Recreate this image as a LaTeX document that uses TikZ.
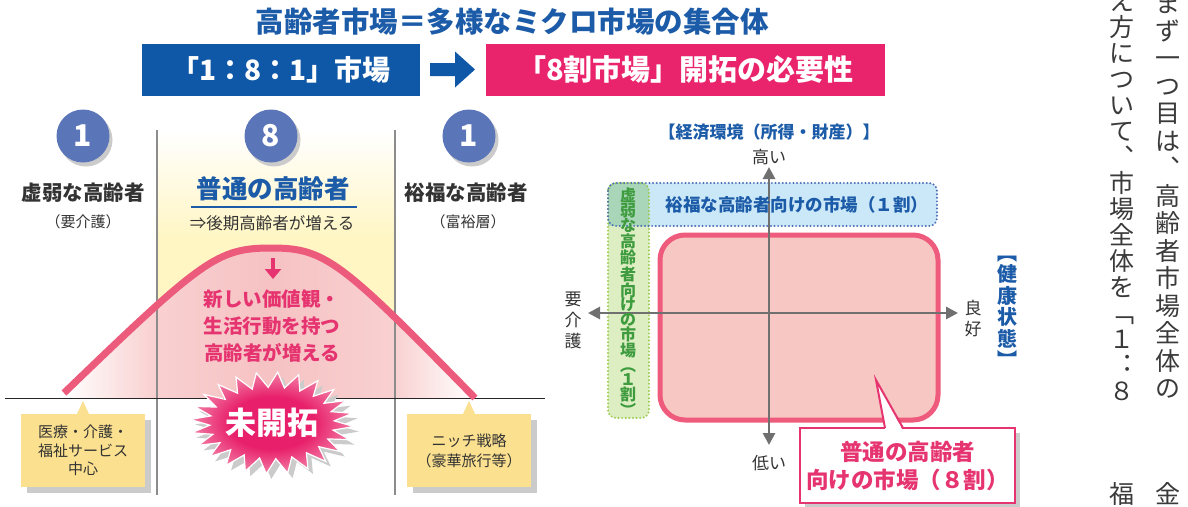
\documentclass[tikz,border=0pt]{standalone}
\usepackage{fontspec}
\setmainfont{Noto Sans CJK JP}
\usetikzlibrary{arrows.meta,shadows,calc}
\definecolor{tblue}{HTML}{1B5BA8}
\definecolor{boxblue}{HTML}{0F57A7}
\definecolor{boxpink}{HTML}{EA246C}
\definecolor{badge}{HTML}{5B75B9}
\definecolor{curvepink}{HTML}{EC5A7C}
\definecolor{textpink}{HTML}{E63470}
\definecolor{yel}{HTML}{FFF6C4}
\definecolor{bellpink}{HTML}{F9D0D0}
\definecolor{bellpink2}{HTML}{F6C2C3}
\definecolor{notey}{HTML}{FBE08F}
\definecolor{shadowg}{HTML}{CBCBCB}
\definecolor{linegrey}{HTML}{8C8C8C}
\definecolor{axisg}{HTML}{707070}
\definecolor{dtext}{HTML}{333333}
\definecolor{booktc}{HTML}{3A3A3A}
\definecolor{lblue}{HTML}{CBE8F8}
\definecolor{dblue}{HTML}{4C6FB6}
\definecolor{lgreen}{HTML}{DDEEC3}
\definecolor{dgreen}{HTML}{9CCB4E}
\definecolor{tgreen}{HTML}{3E9B3E}
\definecolor{ovl}{HTML}{A9D5B8}
\definecolor{rectpink}{HTML}{F7C7C3}
\definecolor{rectborder}{HTML}{EE5B7C}
\definecolor{starin}{HTML}{E8206B}
\definecolor{starout}{HTML}{F27DA4}
\newcommand\fsz[2]{\fontsize{#1}{#2}\selectfont}
\pgfdeclareverticalshading{yelsh}{100bp}{color(0bp)=(yel); color(25bp)=(yel); color(55bp)=(yel); color(75bp)=(white); color(100bp)=(white)}
\pgfdeclarehorizontalshading{bellsh}{100bp}{color(0bp)=(white); color(25bp)=(white); color(36bp)=(bellpink); color(50bp)=(bellpink2); color(65bp)=(bellpink); color(75bp)=(white); color(100bp)=(white)}
\pgfdeclareradialshading{starsh}{\pgfpoint{0bp}{0bp}}{color(0bp)=(starin); color(13bp)=(starin); color(25bp)=(starout); color(50bp)=(starout)}
\begin{document}
\begin{tikzpicture}[x=1pt,y=-1pt,
  every node/.style={inner sep=0pt,outer sep=0pt},
  badgestyle/.style={circle, fill=badge, minimum size=53pt, text=white, font=\bfseries\fsz{30}{30}, drop shadow={shadow xshift=3pt, shadow yshift=-4pt, fill=shadowg, opacity=1}},
  catlabel/.style={font=\bfseries\fsz{20.5}{24}, text=dtext},
  sublabel/.style={font=\fsz{15}{18}, text=dtext},
  notebox/.style={fill=notey, minimum width=124pt, minimum height=73pt, align=center, text=dtext, font=\fsz{15}{18.5}, drop shadow={shadow xshift=6pt, shadow yshift=-6pt, fill=shadowg, opacity=1}},
  axislabel/.style={font=\fsz{17}{21}, text=dtext, align=center},
  dotline/.style={line width=2.2pt, dash pattern=on 0pt off 3.6pt, line cap=round},
  axisarrow/.style={axisg, line width=2.8pt, {Triangle[width=12pt,length=12pt]}-{Triangle[width=12pt,length=12pt]}},
  booktext/.style={font=\fsz{25}{27.5}, text=booktc, align=center},
]
\useasboundingbox (0,0) rectangle (1188,506);
\fill[white] (0,0) rectangle (1188,506);

% ---------- header ----------
\node[font=\bfseries\fsz{28.5}{30}, text=tblue] (title) at (512,22) {高齢者市場＝多様なミクロ市場の集合体};
\node[fill=boxblue, minimum width=278pt, minimum height=52pt, text=white, font=\bfseries\fsz{28}{30}] (b181) at (281,69.5) {「1：8：1」市場};
\node[fill=boxpink, minimum width=399pt, minimum height=52pt, text=white, font=\bfseries\fsz{29}{30}] (b8) at (685.5,69.5) {「8割市場」開拓の必要性};
\fill[boxblue] ($(b181.east)+(10,-6.5)$) -- ++(25,0) -- ++(0,-11.5) -- ++(20,18) -- ++(-20,18) -- ++(0,-11.5) -- ++(-25,0) -- cycle;

% ---------- left panel ----------
\shade[shading=yelsh] (157,130) rectangle (395,398);
\shade[shading=bellsh] (64,398) -- (64,393) .. controls (202,260) and (217,248) .. (271,248) .. controls (325,248) and (340,260) .. (475,398) -- cycle;
\draw[linegrey, line width=2.2pt] (157,130) -- (157,495);
\draw[linegrey, line width=2.2pt] (395,130) -- (395,495);
\draw[black!85, line width=1pt] (5,398) -- (545,398);
\draw[curvepink, line width=7pt] (64,393) .. controls (202,260) and (217,248) .. (271,248) .. controls (325,248) and (340,260) .. (475,398);

\node[badgestyle] (c1) at (83,136) {1};
\node[badgestyle] (c8) at (271,136) {8};
\node[badgestyle] (c10) at (469,136) {1};

\node[catlabel] (l1) at (83,193) {虚弱な高齢者};
\node[sublabel] (l1s) at (83,222) {（要介護）};
\node[font=\bfseries\fsz{25.5}{28}, text=tblue] (l8) at (273,189) {普通の高齢者};
\draw[tblue, line width=1.3pt] (191,207) -- (357,207);
\node[font=\fsz{16.5}{20}, text=dtext] (l8s) at (272,223) {⇒後期高齢者が増える};
\node[catlabel] (l10) at (466,193) {裕福な高齢者};
\node[sublabel] (l10s) at (468,222) {（富裕層）};

\coordinate (pa1) at (273,258);
\coordinate (pa2) at (273,279);
\draw[textpink, line width=4.5pt, -{Triangle[width=16pt,length=10pt]}] (pa1) -- (pa2);
\node[font=\bfseries\fsz{19.5}{27}, text=textpink, align=center] (newv) at (272,326) {新しい価値観・\\生活行動を持つ\\高齢者が増える};

% starburst
\fill[shadowg] plot[samples at={0,...,47}] ({277+82*(1-0.24*mod(\x,2))*cos(\x*7.5+4)},{428+51*(1-0.3*mod(\x,2))*sin(\x*7.5+4)}) -- cycle;
\shadedraw[shading=starsh, draw=white, line width=1.2pt] plot[samples at={0,...,47}] ({272+82*(1-0.24*mod(\x,2))*cos(\x*7.5+4)},{423+51*(1-0.3*mod(\x,2))*sin(\x*7.5+4)}) -- cycle;
\node[font=\bfseries\fsz{31}{32}, text=white] (mk) at (272,423) {未開拓};

% notes
\node[notebox] (n1) at (83,450.5) {医療・介護・\\福祉サービス\\中心};
\fill[notey] ([xshift=-6pt]n1.north) -- ([yshift=13pt]n1.north) -- ([xshift=6pt]n1.north) -- cycle;
\node[notebox, font=\fsz{15}{20}] (n2) at (469,450.5) {ニッチ戦略\\（豪華旅行等）};
\fill[notey] ([xshift=-6pt]n2.north) -- ([yshift=13pt]n2.north) -- ([xshift=6pt]n2.north) -- cycle;

% ---------- right panel ----------
\fill[lgreen, rounded corners=8pt] (608,183) rectangle (649,418);
\fill[lblue, rounded corners=8pt] (608,183) rectangle (937,226);
\begin{scope}
\clip[rounded corners=8pt] (608,183) rectangle (649,418);
\fill[ovl] (608,183) rectangle (649,226);
\end{scope}
\draw[dgreen, dotline, rounded corners=8pt] (608,183) rectangle (649,418);
\draw[dblue, dotline, rounded corners=8pt] (608,183) rectangle (937,226);
\draw[rectborder, fill=rectpink, line width=5pt, rounded corners=25pt] (660,235) rectangle (938,420);

\coordinate (vt) at (769,167);
\coordinate (vb) at (769,445);
\coordinate (hl) at (588,313);
\coordinate (hr) at (958,313);
\draw[axisarrow] (vb) -- (vt);
\draw[axisarrow] (hl) -- (hr);

\node[font=\bfseries\fsz{17.5}{20}, text=tblue] (rich) at (797,205) {裕福な高齢者向けの市場（１割）};
\node[font=\bfseries\fsz{16}{14.7}, text=tgreen, align=center] (weak) at (628,302) {虚\\弱\\な\\高\\齢\\者\\向\\け\\の\\市\\場\\︵\\１\\割\\︶};

\node[font=\bfseries\fsz{17}{20}, text=tblue] (econ) at (769,132) {【経済環境（所得・財産）】};
\node[axislabel] (hi) at (769,157) {高い};
\node[axislabel] (lo) at (769,463) {低い};
\node[axislabel] (yk) at (573,320) {要\\介\\護};
\node[axislabel] (ry) at (973,319) {良\\好};
\node[font=\bfseries\fsz{20}{21.5}, text=tblue, align=center] (kenko) at (1007,312) {︻\\健\\康\\状\\態\\︼};

% callout
\fill[shadowg] (805,433) rectangle (1020,508);
\node[draw=textpink, line width=2pt, fill=white, minimum width=215pt, minimum height=75pt, align=center, font=\bfseries\fsz{22.5}{28}, text=textpink] (call) at (907.5,465.5) {普通の高齢者\\向けの市場（８割）};
\coordinate (ctip) at (876,380);
\fill[white] ([xshift=-22pt,yshift=-2pt]call.north) -- (ctip) -- ([xshift=-5pt,yshift=-2pt]call.north) -- cycle;
\draw[textpink, line width=2pt] ([xshift=-22.5pt]call.north) -- (ctip) -- ([xshift=-4.5pt]call.north);

% ---------- book text at right edge ----------
\node[booktext] (bk1) at (1168,195.5) {ま\\ず\\一\\つ\\目\\は\\︑\\高\\齢\\者\\市\\場\\全\\体\\の};
\node[booktext] (bk2) at (1168,494) {金};
\node[booktext, font=\fsz{25}{26}] (bk3) at (1122,195.5) {え\\方\\に\\つ\\い\\て\\︑\\市\\場\\全\\体\\を\\﹁\\１\\︓\\８};
\node[booktext] (bk6) at (1122,494) {福};
\end{tikzpicture}
\end{document}
